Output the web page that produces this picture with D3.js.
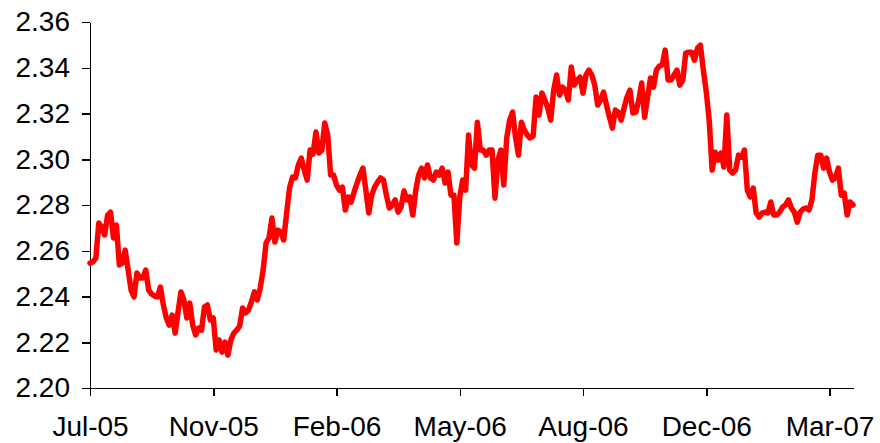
<!DOCTYPE html>
<html>
<head>
<meta charset="utf-8">
<script src="https://cdn.jsdelivr.net/npm/d3@7"></script>
<style>
  html, body { margin: 0; padding: 0; background: #fff; }
  svg { display: block; }
  .axis text { font-family: "Liberation Sans", Arial, sans-serif; font-size: 28px; fill: #000; }
  .axis path, .axis line { stroke: #000; stroke-width: 1.5px; }
</style>
</head>
<body>
<svg id="chart" width="880" height="443"></svg>
<script>
// Daily series (business days), Jul-05 .. mid-Mar-07
const rates = [
  2.2546,2.2551,2.2568,2.2721,2.2704,2.2669,2.2756,2.2769,2.2656,2.2712,
  2.2538,2.2546,2.2603,2.2516,2.2428,2.2398,2.2503,2.2481,2.2481,2.2516,
  2.2428,2.2411,2.2402,2.2398,2.2441,2.2363,2.2306,2.2275,2.2319,2.2240,
  2.2332,2.2420,2.2385,2.2306,2.2371,2.2275,2.2232,2.2262,2.2253,2.2354,
  2.2363,2.2297,2.2306,2.2166,2.2210,2.2157,2.2201,2.2144,2.2210,2.2240,
  2.2253,2.2271,2.2350,2.2328,2.2341,2.2376,2.2420,2.2385,2.2437,2.2516,
  2.2634,2.2656,2.2743,2.2638,2.2690,2.2682,2.2647,2.2765,2.2874,2.2922,
  2.2918,2.2975,2.3005,2.2953,2.2909,2.3040,2.3023,2.3119,2.3027,2.3040,
  2.3158,2.3106,2.2931,2.2931,2.2887,2.2865,2.2878,2.2778,2.2835,2.2813,
  2.2857,2.2896,2.2931,2.2961,2.2865,2.2765,2.2843,2.2878,2.2900,2.2918,
  2.2909,2.2843,2.2787,2.2800,2.2822,2.2769,2.2791,2.2861,2.2822,2.2835,
  2.2756,2.2865,2.2931,2.2961,2.2918,2.2975,2.2918,2.2909,2.2944,2.2931,
  2.2961,2.2896,2.2944,2.2843,2.2843,2.2634,2.2835,2.2909,2.2865,2.3106,
  2.2975,2.2961,2.3162,2.3040,2.3040,2.3018,2.3040,2.3040,2.2830,2.2996,
  2.3040,2.2887,2.3093,2.3171,2.3206,2.3097,2.3018,2.3162,2.3127,2.3106,
  2.3093,2.3101,2.3272,2.3193,2.3289,2.3259,2.3224,2.3171,2.3302,2.3368,
  2.3280,2.3315,2.3302,2.3259,2.3403,2.3324,2.3346,2.3359,2.3289,2.3368,
  2.3390,2.3368,2.3324,2.3237,2.3259,2.3294,2.3237,2.3184,2.3136,2.3215,
  2.3206,2.3171,2.3224,2.3272,2.3302,2.3202,2.3206,2.3259,2.3333,2.3184,
  2.3272,2.3355,2.3315,2.3390,2.3407,2.3412,2.3477,2.3346,2.3346,2.3368,
  2.3390,2.3324,2.3346,2.3464,2.3468,2.3468,2.3433,2.3486,2.3499,2.3390,
  2.3294,2.3171,2.2953,2.3031,2.2996,2.3027,2.2966,2.3193,2.2953,2.2940,
  2.2953,2.3018,2.3009,2.3040,2.2865,2.2835,2.2874,2.2765,2.2747,2.2765,
  2.2769,2.2765,2.2813,2.2756,2.2756,2.2769,2.2791,2.2800,2.2822,2.2787,
  2.2769,2.2725,2.2769,2.2782,2.2787,2.2778,2.2822,2.2940,2.3018,2.3018,
  2.2961,2.3005,2.2944,2.2909,2.2918,2.2961,2.2843,2.2852,2.2756,2.2813,
  2.2800
];
const tickIndex  = [0, 42, 84, 126, 168, 210, 252];
const tickLabels = ["Jul-05", "Nov-05", "Feb-06", "May-06", "Aug-06", "Dec-06", "Mar-07"];
const yTicks     = [2.20, 2.22, 2.24, 2.26, 2.28, 2.30, 2.32, 2.34, 2.36];

(function () {
  const svg = d3.select("#chart");
  const m = { left: 90, right: 853, top: 22, bottom: 388 };

  const x = d3.scaleLinear().domain([0, rates.length - 1]).range([m.left, m.right]);
  const y = d3.scaleLinear().domain([2.20, 2.36]).range([m.bottom, m.top]);

  svg.append("g")
    .attr("class", "axis")
    .attr("transform", `translate(${m.left},0)`)
    .call(d3.axisLeft(y).tickValues(yTicks).tickFormat(d3.format(".2f"))
          .tickSize(8).tickSizeOuter(0).tickPadding(12))
    .call(g => g.selectAll("path,line").attr("shape-rendering", "crispEdges"));

  svg.append("g")
    .attr("class", "axis")
    .attr("transform", `translate(0,${m.bottom})`)
    .call(d3.axisBottom(x).tickValues(tickIndex).tickFormat((d, i) => tickLabels[i])
          .tickSize(8).tickSizeOuter(0).tickPadding(20))
    .call(g => g.selectAll("path,line").attr("shape-rendering", "crispEdges"));

  const line = d3.line().x((d, i) => x(i)).y(d => y(d));

  svg.append("path")
    .datum(rates)
    .attr("d", line)
    .attr("fill", "none")
    .attr("stroke", "#ff0000")
    .attr("stroke-width", 5.5)
    .attr("stroke-linejoin", "round")
    .attr("stroke-linecap", "round");
})();
</script>
</body>
</html>
